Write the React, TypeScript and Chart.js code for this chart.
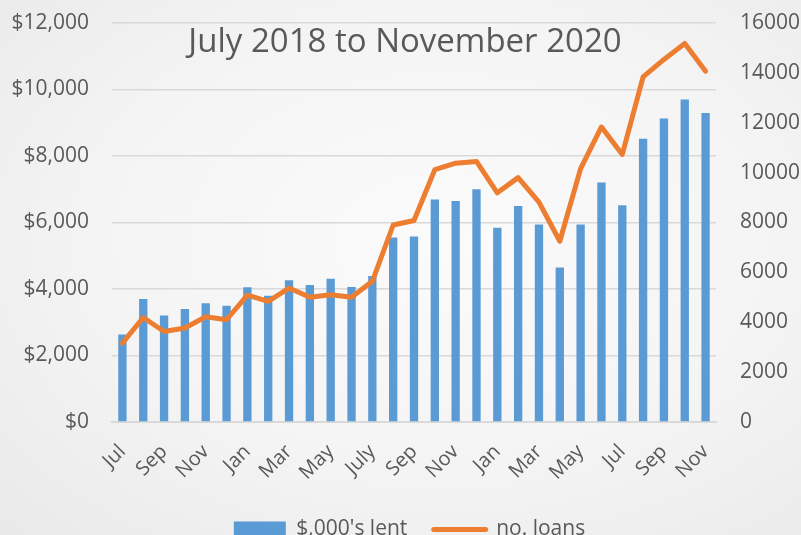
import React, { useEffect, useRef } from "react";
import { Chart, registerables } from "chart.js";

Chart.register(...registerables);

const TITLE = "July 2018 to November 2020";
const MONTHS = [
  "Jul", "Aug", "Sep", "Oct", "Nov", "Dec",
  "Jan", "Feb", "Mar", "Apr", "May", "Jun",
  "July", "Aug", "Sep", "Oct", "Nov", "Dec",
  "Jan", "Feb", "Mar", "Apr", "May", "Jun",
  "Jul", "Aug", "Sep", "Oct", "Nov",
];
const LENT = [
  2630, 3700, 3200, 3400, 3570, 3500,
  4050, 3800, 4260, 4120, 4310, 4060,
  4390, 5550, 5580, 6690, 6650, 7000,
  5840, 6500, 5940, 4650, 5940, 7200,
  6520, 8520, 9130, 9700, 9290,
];
const LOANS = [
  3160, 4190, 3630, 3770, 4220, 4100,
  5090, 4840, 5370, 5000, 5100, 5000,
  5640, 7900, 8080, 10120, 10380, 10450,
  9190, 9800, 8820, 7250, 10160, 11830,
  10730, 13840, 14540, 15180, 14070,
];

const FONT = "'Open Sans', 'DejaVu Sans', sans-serif";
const TEXT = "#595959";
const GRID = "#d9d9d9";
const EXTRA_RIGHT = 18;

const titlePlugin = {
  id: "innerTitle",
  beforeDatasetsDraw(chart: any) {
    const { ctx } = chart;
    ctx.save();
    ctx.font = `33px ${FONT}`;
    ctx.fillStyle = TEXT;
    ctx.textAlign = "center";
    ctx.textBaseline = "alphabetic";
    ctx.fillText(TITLE, 405, 52);
    ctx.restore();
  },
};

export default function App() {
  const ref = useRef<HTMLCanvasElement>(null);
  useEffect(() => {
    document.body.style.margin = "0";
    const chart = new Chart(ref.current!, {
      type: "bar",
      data: {
        labels: MONTHS,
        datasets: [
          {
            type: "line",
            label: "no. loans",
            data: LOANS,
            yAxisID: "y1",
            borderColor: "#ED7D31",
            backgroundColor: "#ED7D31",
            borderWidth: 5,
            pointRadius: 0,
            tension: 0,
            borderCapStyle: "round",
            borderJoinStyle: "round",
            order: 0,
          },
          {
            type: "bar",
            label: "$,000's lent",
            data: LENT,
            yAxisID: "y",
            backgroundColor: "#5B9BD5",
            categoryPercentage: 1,
            barPercentage: 0.4,
            order: 1,
          },
        ],
      },
      options: {
        responsive: false,
        animation: false,
        layout: { padding: { top: 23, left: 0, right: 0, bottom: 0 } },
        plugins: {
          title: { display: false },
          tooltip: { enabled: false },
          legend: {
            position: "bottom",
            labels: {
              font: { family: FONT, size: 21 },
              color: TEXT,
              padding: 10,
              boxWidth: 52,
              boxHeight: 16,
              usePointStyle: true,
              pointStyleWidth: 52,
              generateLabels(chart: any) {
                const ds = chart.data.datasets;
                const order = [1, 0];
                return order.map((i: number) => ({
                  text: ds[i].type === "bar" ? ds[i].label + "   " : ds[i].label,
                  fillStyle: ds[i].backgroundColor,
                  strokeStyle: ds[i].borderColor || ds[i].backgroundColor,
                  lineWidth: ds[i].type === "line" ? 5 : 0,
                  lineCap: "round",
                  pointStyle: ds[i].type === "line" ? "line" : "rect",
                  fontColor: TEXT,
                  hidden: false,
                  datasetIndex: i,
                }));
              },
            },
          },
        },
        scales: {
          x: {
            grid: { display: false, drawTicks: false },
            border: { display: true, color: GRID, width: 2 },
            ticks: {
              autoSkip: false,
              maxRotation: 45,
              minRotation: 45,
              padding: 18,
              color: TEXT,
              font: { family: FONT, size: 20 },
              callback(_v: any, i: number) {
                return i % 2 === 0 ? MONTHS[i] : null;
              },
            },
            afterFit(s: any) {
              s.height = 87;
              s.paddingLeft = 0;
              s.paddingRight = 0;
            },
          },
          y: {
            position: "left",
            min: 0,
            max: 12000,
            grid: { color: GRID, lineWidth: 1.5, drawTicks: false },
            border: { display: false },
            ticks: {
              stepSize: 2000,
              padding: 23,
              color: TEXT,
              font: { family: FONT, size: 21 },
              callback(v: any) {
                return "$" + Number(v).toLocaleString("en-US");
              },
            },
            afterFit(s: any) {
              s.width = 112;
              s.paddingTop = 0;
              s.paddingBottom = 0;
            },
          },
          y1: {
            position: "right",
            min: 0,
            max: 16000,
            grid: { display: false, drawTicks: false },
            border: { display: false },
            ticks: {
              stepSize: 2000,
              padding: 24,
              color: TEXT,
              font: { family: FONT, size: 21 },
              callback(v: any) {
                return String(v);
              },
            },
            afterFit(s: any) {
              s.width = 85 + EXTRA_RIGHT;
              s.paddingTop = 0;
              s.paddingBottom = 0;
            },
          },
        },
      },
      plugins: [titlePlugin],
    });
    return () => chart.destroy();
  }, []);
  return (
    <div
      style={{
        position: "fixed",
        left: 0,
        top: 0,
        width: 801,
        height: 535,
        overflow: "hidden",
        background:
          "radial-gradient(ellipse at 55% 45%, #fbfbfb 0%, #f4f4f4 55%, #e9e9e9 100%)",
      }}
    >
      <canvas
        ref={ref}
        width={801 + EXTRA_RIGHT}
        height={550}
        style={{ display: "block" }}
      />
    </div>
  );
}
